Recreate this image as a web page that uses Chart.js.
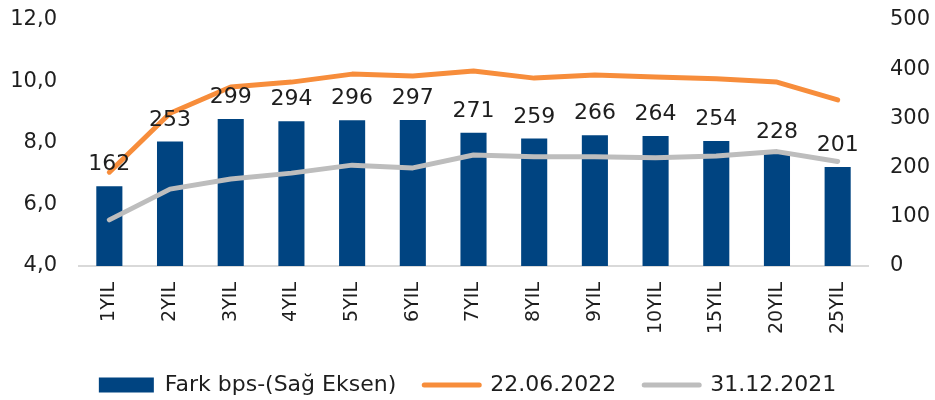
<!DOCTYPE html>
<html>
<head>
<meta charset="utf-8">
<script src="https://cdn.jsdelivr.net/npm/chart.js@4/dist/chart.umd.min.js"></script>
<style>
  html, body { margin: 0; padding: 0; background: #ffffff; }
  #wrap { width: 935px; height: 400px; position: relative; }
</style>
</head>
<body>
<div id="wrap"><canvas id="c" width="935" height="400"></canvas></div>
<script>
const categories = ['1YIL','2YIL','3YIL','4YIL','5YIL','6YIL','7YIL','8YIL','9YIL','10YIL','15YIL','20YIL','25YIL'];
const farkBps = [162, 253, 299, 294, 296, 297, 271, 259, 266, 264, 254, 228, 201];
const yield20220622 = [7.05, 8.97, 9.82, 9.98, 10.24, 10.18, 10.34, 10.11, 10.21, 10.15, 10.09, 9.98, 9.40];
const yield20211231 = [5.50, 6.50, 6.83, 7.02, 7.28, 7.19, 7.61, 7.55, 7.55, 7.52, 7.58, 7.72, 7.40];
const leftTicks = [4, 6, 8, 10, 12];
const rightTicks = [0, 100, 200, 300, 400, 500];
const seriesNames = ['Fark bps-(Sağ Eksen)', '22.06.2022', '31.12.2021'];

const FONT = 'DejaVu Sans';
const TEXT = '#1e1e1e';
const BLUE = '#004481';
const ORANGE = '#F78D3B';
const GRAY = '#BDBDBD';

const barLabels = {
  id: 'barLabels',
  afterDatasetsDraw(chart) {
    const meta = chart.getDatasetMeta(0);
    const ctx = chart.ctx;
    ctx.save();
    ctx.font = '22px "' + FONT + '"';
    ctx.fillStyle = TEXT;
    ctx.textAlign = 'center';
    ctx.textBaseline = 'alphabetic';
    meta.data.forEach((bar, i) => {
      ctx.fillText(String(farkBps[i]), bar.x, bar.y - 16);
    });
    ctx.restore();
  }
};

// keep the legend strip compact while using wide spacing between items
const legendHeight = {
  id: 'legendHeight',
  beforeLayout(chart) {
    const l = chart.legend;
    if (l && !l._patchedFit) {
      const orig = l.fit.bind(l);
      l.fit = function () { orig(); this.height = 54; };
      l._patchedFit = true;
    }
  }
};

new Chart(document.getElementById('c'), {
  data: {
    labels: categories,
    datasets: [
      {
        type: 'bar',
        label: seriesNames[0],
        data: farkBps,
        yAxisID: 'yR',
        backgroundColor: BLUE,
        borderWidth: 0,
        categoryPercentage: 1,
        barPercentage: 0.43,
        order: 3
      },
      {
        type: 'line',
        label: seriesNames[1],
        data: yield20220622,
        yAxisID: 'yL',
        borderColor: ORANGE,
        backgroundColor: ORANGE,
        borderWidth: 5,
        pointRadius: 0,
        borderCapStyle: 'round',
        borderJoinStyle: 'round',
        tension: 0,
        order: 1
      },
      {
        type: 'line',
        label: seriesNames[2],
        data: yield20211231,
        yAxisID: 'yL',
        borderColor: GRAY,
        backgroundColor: GRAY,
        borderWidth: 5,
        pointRadius: 0,
        borderCapStyle: 'round',
        borderJoinStyle: 'round',
        tension: 0,
        order: 2
      }
    ]
  },
  options: {
    responsive: false,
    animation: false,
    layout: { padding: { top: 20, left: 0, right: 0, bottom: 0 } },
    plugins: {
      tooltip: { enabled: false },
      legend: {
        position: 'bottom',
        labels: {
          usePointStyle: true,
          pointStyleWidth: 55,
          boxHeight: 15,
          padding: 28,
          color: TEXT,
          font: { family: FONT, size: 22 },
          generateLabels(chart) {
            return chart.data.datasets.map((ds, i) => ({
              text: ds.label,
              datasetIndex: i,
              fillStyle: ds.type === 'bar' ? ds.backgroundColor : ds.borderColor,
              strokeStyle: ds.type === 'bar' ? ds.backgroundColor : ds.borderColor,
              lineWidth: ds.type === 'bar' ? 0 : 5,
              lineCap: 'round',
              pointStyle: ds.type === 'bar' ? 'rect' : 'line',
              fontColor: TEXT,
              hidden: false
            }));
          }
        }
      }
    },
    scales: {
      x: {
        offset: true,
        grid: { display: true, color: 'rgba(0,0,0,0)', drawTicks: false, tickLength: 0 },
        border: { display: true, color: '#D9D9D9', width: 2 },
        ticks: {
          color: TEXT,
          font: { family: FONT, size: 19 },
          maxRotation: 90,
          minRotation: 90,
          padding: 16,
          autoSkip: false
        },
        afterFit(s) { s.height = 80; s.paddingLeft = 0; s.paddingRight = 0; }
      },
      yL: {
        position: 'left',
        min: 4,
        max: 12,
        afterBuildTicks(s) { s.ticks = leftTicks.map(v => ({ value: v })); },
        grid: { display: false, drawTicks: false, tickLength: 0 },
        border: { display: false },
        ticks: {
          color: TEXT,
          font: { family: FONT, size: 21 },
          padding: 22,
          callback: v => Number(v).toFixed(1).replace('.', ',')
        },
        afterFit(s) { s.width = 79; s.paddingTop = 0; s.paddingBottom = 0; }
      },
      yR: {
        position: 'right',
        min: 0,
        max: 500,
        afterBuildTicks(s) { s.ticks = rightTicks.map(v => ({ value: v })); },
        grid: { display: false, drawTicks: false, tickLength: 0 },
        border: { display: false },
        ticks: {
          color: TEXT,
          font: { family: FONT, size: 21 },
          padding: 22,
          callback: v => String(v)
        },
        afterFit(s) { s.width = 67; s.paddingTop = 0; s.paddingBottom = 0; }
      }
    }
  },
  plugins: [barLabels, legendHeight]
});
</script>
</body>
</html>
